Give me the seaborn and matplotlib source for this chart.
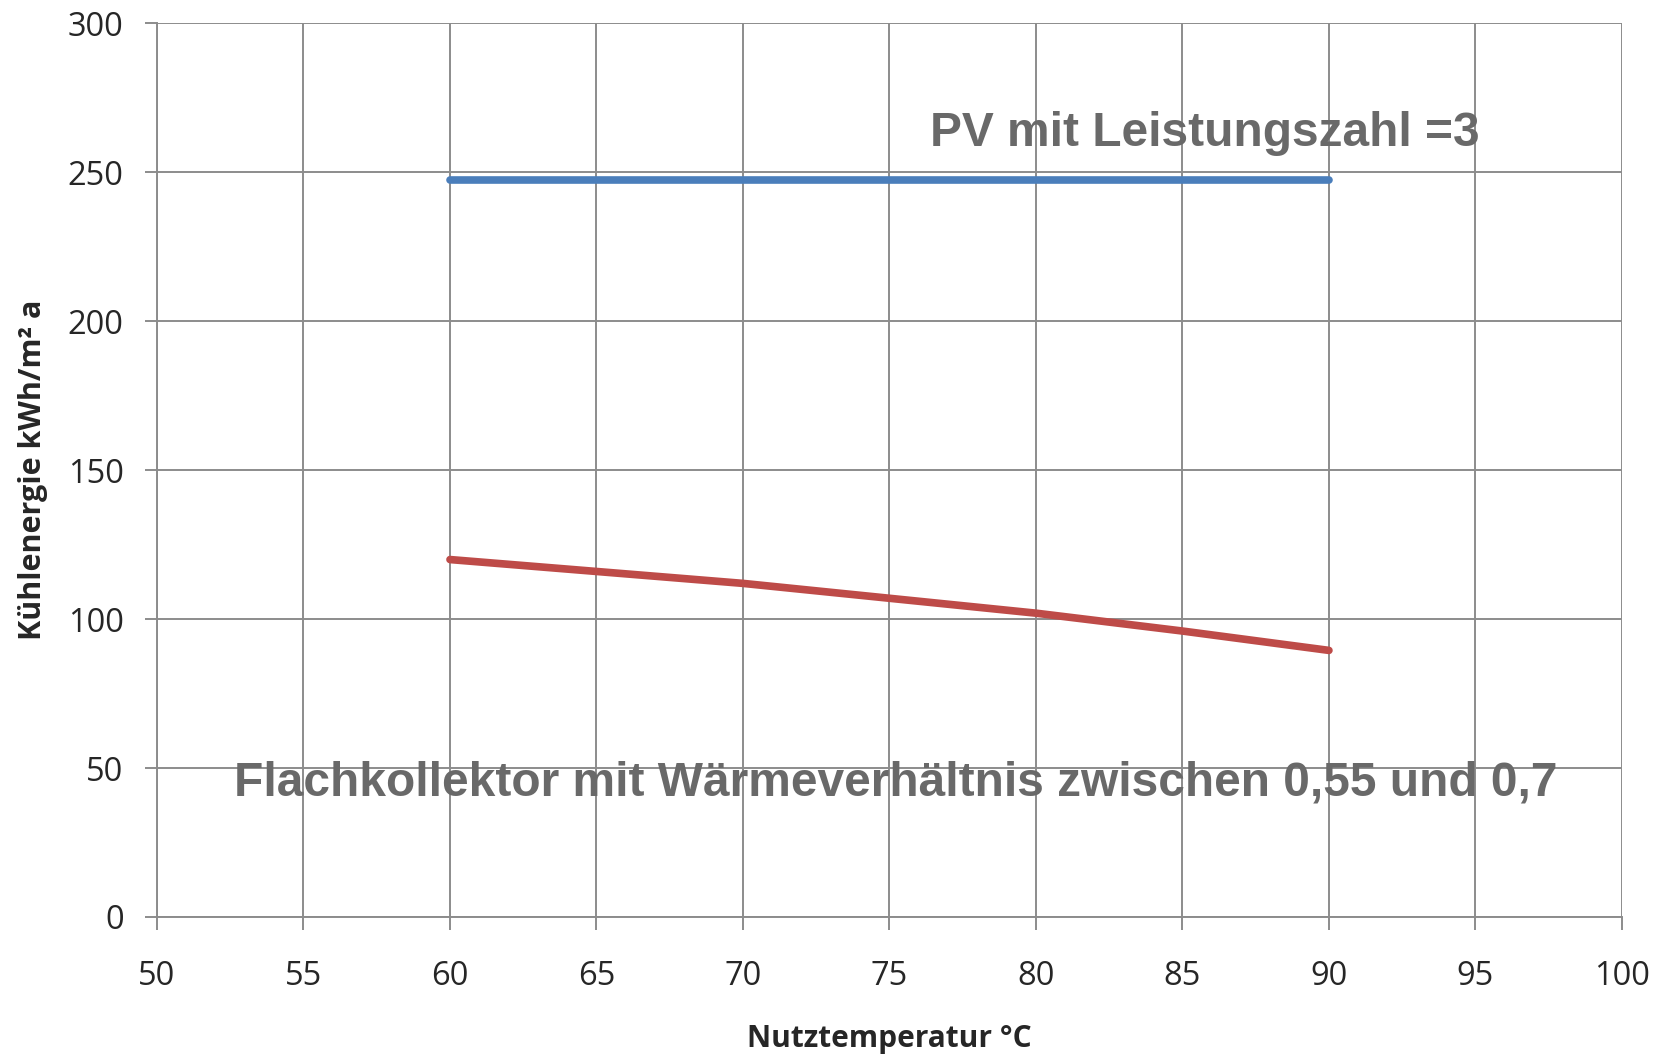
import pandas as pd
import numpy as np
import matplotlib.pyplot as plt
import seaborn as sns

temperatur = [60, 65, 70, 75, 80, 85, 90]
pv = [247.5, 247.5, 247.5, 247.5, 247.5, 247.5, 247.5]
flachkollektor = [120, 116, 112, 107, 102, 96, 89.5]

x_ticks = list(range(50, 101, 5))
y_ticks = list(range(0, 301, 50))

tabela = pd.DataFrame({
    'temperatur': temperatur * 2,
    'energie': pv + flachkollektor,
    'serie': ['PV'] * len(temperatur) + ['Flach'] * len(temperatur),
})

sns.set_theme(style='white')
plt.rcParams['font.family'] = ['Open Sans', 'DejaVu Sans']

fig = plt.figure(figsize=(16.63, 10.57), dpi=100)
ax = fig.add_axes([0.0944, 0.1325, 0.8809, 0.8453])

sns.lineplot(
    data=tabela, x='temperatur', y='energie', hue='serie',
    palette={'PV': '#4a7ebb', 'Flach': '#be4b48'},
    linewidth=5.5, legend=False, ax=ax,
    solid_capstyle='round'
)

ax.set_xlim(50, 100)
ax.set_ylim(0, 300)
ax.set_xticks(x_ticks)
ax.set_yticks(y_ticks)
ax.grid(True, color='#8c8c8c', linewidth=1.4)
ax.set_axisbelow(True)
for s in ax.spines.values():
    s.set_visible(False)
ax.spines['left'].set_visible(True)
ax.spines['bottom'].set_visible(True)
ax.spines['left'].set_color('#8c8c8c')
ax.spines['bottom'].set_color('#8c8c8c')
ax.spines['left'].set_linewidth(1.4)
ax.spines['bottom'].set_linewidth(1.4)
ax.tick_params(axis='both', length=9, width=1.4, color='#8c8c8c',
               labelsize=23.5, direction='out', bottom=True, left=True)
ax.tick_params(axis='x', pad=22)
ax.tick_params(axis='y', pad=15)

ax.set_xlabel('Nutztemperatur °C', fontsize=21.5, fontweight='bold', labelpad=22)
ax.set_ylabel('Kühlenergie kWh/m² a', fontsize=22, fontweight='bold', labelpad=14)

ax.text(76.4, 263, 'PV mit Leistungszahl =3', fontsize=34.5, fontweight='bold',
        color='#696969', family=['Liberation Sans', 'DejaVu Sans'],
        ha='left', va='center')
ax.text(75.2, 45, 'Flachkollektor mit Wärmeverhältnis zwischen 0,55 und 0,7',
        fontsize=34.5, fontweight='bold', color='#696969',
        family=['Liberation Sans', 'DejaVu Sans'], ha='center', va='center')

plt.savefig('out.png', dpi=100)
